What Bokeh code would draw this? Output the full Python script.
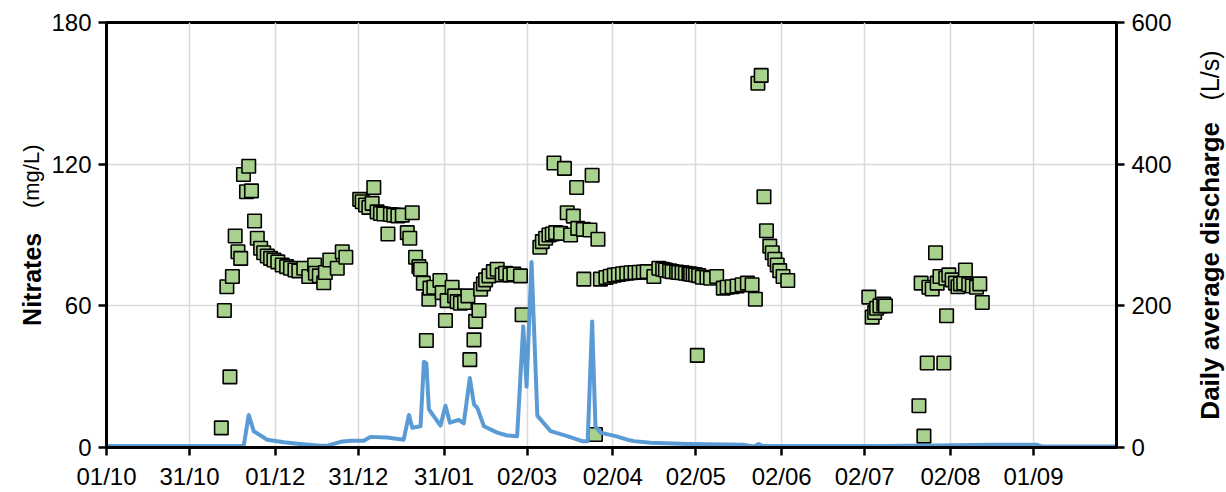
import math
from bokeh.plotting import figure
from bokeh.layouts import row
from bokeh.models import Range1d, LinearAxis, FixedTicker
from bokeh.core.properties import value
from bokeh.embed import file_html
from bokeh.resources import INLINE

# Hydrological year, days counted from 1 October
tick_days = [0, 30, 61, 91, 122, 152, 183, 213, 244, 274, 305, 335]
tick_labels = ["01/10", "31/10", "01/12", "31/12", "31/01", "02/03",
               "02/04", "02/05", "02/06", "02/07", "02/08", "01/09"]

nitrate_ticks = [0, 60, 120, 180]
discharge_ticks = [0, 200, 400, 600]

# Nitrate concentration samples (day, mg/L)
nitrate_day = [
    41.5, 42.6, 43.5, 44.6, 45.5, 46.5, 47.5, 48.5, 49.5, 50.6, 51.4, 52.4,
    53.5, 54.5, 55.7, 56.8, 58.1, 59.3, 60.5, 61.9, 63.5, 65.1, 66.5, 68.1,
    69.5, 71.3, 73.1, 75.2, 75.5, 76.9, 78.5, 79.1, 80.7, 83.4, 85.2, 86.5,
    91.5, 92.4, 93.6, 94.8, 96.0, 96.6, 97.8, 99.0, 100.2, 101.7, 102.6, 103.8,
    105.3, 106.9, 108.7, 109.6, 110.5, 111.7, 112.9, 113.5, 114.5, 115.6, 116.5,
    116.9, 118.3, 120.5, 121.3, 122.5, 123.1, 124.9, 125.8, 126.7, 127.9, 129.4,
    130.6, 131.3, 132.8, 133.4, 134.6, 135.2, 136.2, 137.0, 138.2, 139.8, 141.2,
    143.0, 144.2, 145.8, 147.2, 149.6, 150.2,
    156.6, 157.5, 158.7, 159.9, 161.1, 161.7, 162.3, 164.1, 165.5, 166.5, 167.7,
    168.7, 169.9, 170.3, 172.3, 172.5, 174.7, 175.5, 176.7, 177.6, 178.5,
    180.5, 182.0, 183.5, 185.0, 186.5, 188.0, 189.5, 191.0, 192.5, 194.0, 195.4,
    197.8, 199.6, 201.0, 202.0, 203.5, 204.4, 206.0, 206.8, 208.0, 209.2, 210.5,
    211.1, 212.0, 212.9, 213.5, 214.0, 215.3, 217.0, 218.3, 220.5, 222.9, 224.3,
    226.1, 227.9, 229.7, 231.6, 233.3, 234.5,
    235.4, 236.6, 237.6, 238.5, 239.7, 240.6, 241.5, 242.4, 243.3, 244.5, 246.2,
    275.5, 276.7, 277.6, 278.3, 279.5, 280.9, 281.5,
    293.6, 294.4, 295.4, 296.6, 297.2, 298.4, 299.6, 300.2, 301.2, 302.6, 303.3,
    303.6, 304.4, 305.6, 306.8, 307.7, 308.6, 309.8, 310.4, 311.6, 312.9, 314.4,
    315.6, 316.5,
]
nitrate_mgl = [
    8.3, 58.0, 68.1, 29.9, 72.4, 89.6, 82.9, 80.1, 115.6, 108.3, 119.1, 108.7,
    95.9, 88.6, 84.4, 82.5, 81.1, 80.1, 79.4, 78.6, 77.3, 76.6, 75.9, 75.2,
    74.8, 75.9, 72.4, 77.3, 73.8, 72.7, 69.8, 74.1, 79.4, 75.9, 82.9, 80.6,
    105.1, 104.1, 102.7, 101.7, 103.4, 110.1, 99.8, 99.1, 98.9, 90.4, 98.7, 98.4,
    98.1, 98.4, 91.0, 88.6, 99.4, 80.6, 76.6, 75.5, 69.6, 45.3, 62.8,
    67.5, 67.9, 70.7, 65.6, 53.8, 62.2, 67.9, 64.2, 61.8, 61.1, 61.4,
    64.2, 37.2, 45.6, 53.4, 58.0, 67.0, 69.3, 71.0, 72.7, 74.5, 75.5,
    73.1, 73.8, 73.1, 73.5, 72.7, 56.2,
    84.8, 87.2, 88.6, 90.0, 90.4, 120.5, 91.0, 90.7, 118.2, 99.4, 90.0,
    98.0, 110.1, 92.8, 92.4, 71.3, 92.1, 115.3, 5.5, 88.2, 71.3,
    72.0, 72.5, 73.0, 73.3, 73.6, 73.8, 74.0, 74.1, 74.2, 74.3, 74.5,
    72.4, 75.9, 75.5, 75.2, 74.8, 74.5, 74.3, 74.1, 74.0, 73.8, 73.6,
    73.5, 73.3, 73.1, 39.0, 72.8, 72.1, 72.0, 71.7, 72.4, 67.5, 67.9,
    68.1, 68.4, 68.9, 69.6, 68.9, 62.8,
    154.3, 157.6, 106.2, 91.8, 85.3, 82.5, 79.7, 77.3, 74.9, 72.4, 70.7,
    63.7, 55.2, 57.2, 59.0, 60.0, 60.8, 60.0,
    17.7, 69.6, 4.8, 35.8, 67.9, 67.1, 82.5, 69.6, 72.4, 35.8, 71.7,
    55.8, 73.1, 71.0, 69.6, 68.1, 69.3, 69.6, 75.2, 68.9, 68.4, 67.9,
    69.3, 61.4,
]

# Daily average discharge (day, L/s)
discharge_day = [
    0, 45, 49.6, 51.4, 53.2, 58.1, 64.1, 70.1, 77.3, 80, 82.1, 84.6, 88.2, 93,
    95.4, 101.4, 107.4, 109.3, 110.5, 113.5, 114.7, 115.6, 116.5, 118.3, 120.7,
    122.5, 124.1, 127.3, 129.1, 131.3, 132.8, 134, 136.4, 141.2, 144.8, 148.4,
    150.6, 151.8, 153.6, 155.7, 160.5, 166.5, 171.9, 173.9, 175.5, 176.7, 178.5,
    184, 188.2, 190.6, 196.6, 210, 230, 234, 235.7, 237, 245, 280, 300, 320,
    336, 338, 365,
]
discharge_ls = [
    2, 2, 2.5, 46, 23, 11, 7.5, 5, 2.5, 2.5, 5, 8, 9.5, 9.5,
    15, 14, 11, 46, 28, 30, 121, 119, 54, 44, 31,
    59, 35, 39, 34, 98, 61, 56, 30, 21, 17, 16,
    171, 86, 262, 45, 23, 16, 9, 9, 178, 30, 21,
    16, 11, 9, 6.6, 5, 4, 1.5, 5, 2.5, 2, 2, 3, 4,
    4, 1.5, 1.5,
]

FONT = "Liberation Sans"
TICK_SIZE = "24px"

SIDE_W = 48          # width of the panels holding the axis titles
MAIN_W = 1226 - 2 * SIDE_W

p = figure(width=MAIN_W, height=492, output_backend="svg", toolbar_location=None,
           x_range=Range1d(0, 365), y_range=Range1d(0, 180),
           min_border_left=106 - SIDE_W, min_border_right=110 - SIDE_W,
           min_border_top=22, min_border_bottom=44)
p.background_fill_color = "white"
p.border_fill_color = "white"
p.outline_line_color = "black"
p.outline_line_width = 3

p.extra_y_ranges = {"q": Range1d(0, 600)}
right_axis = LinearAxis(y_range_name="q")
p.add_layout(right_axis, "right")

p.xaxis.ticker = FixedTicker(ticks=tick_days)
p.xaxis.major_label_overrides = {d: lab for d, lab in zip(tick_days, tick_labels)}
p.yaxis.ticker = FixedTicker(ticks=nitrate_ticks)
right_axis.ticker = FixedTicker(ticks=discharge_ticks)

for ax in p.xaxis + p.yaxis:
    ax.axis_line_color = "black"
    ax.axis_line_width = 3
    ax.major_tick_line_color = "black"
    ax.major_tick_line_width = 2.5
    ax.major_tick_out = 8
    ax.major_tick_in = 0
    ax.minor_tick_line_color = None
    ax.major_label_text_font = FONT
    ax.major_label_text_font_size = TICK_SIZE
    ax.major_label_text_color = "black"
    ax.major_label_standoff = 7

p.xgrid.ticker = FixedTicker(ticks=tick_days)
p.ygrid.ticker = FixedTicker(ticks=nitrate_ticks)
p.xgrid.grid_line_color = "#d9d9d9"
p.ygrid.grid_line_color = "#d9d9d9"
p.xgrid.grid_line_width = 1.5
p.ygrid.grid_line_width = 1.5

# Nitrate samples drawn first, discharge line on top
p.scatter(nitrate_day, nitrate_mgl, marker="square", size=13.5,
          fill_color="#a9d18e", line_color="black", line_width=1.6)
p.line(discharge_day, discharge_ls, y_range_name="q",
       line_color="#5b9bd5", line_width=4, line_join="round")


def title_panel(x0, parts):
    """Narrow panel, frame-aligned with the chart, holding a vertical axis title.

    parts: (baseline x in page pixels, start position on the nitrate scale,
            text, font size, bold?)
    """
    t = figure(width=SIDE_W, height=492, output_backend="svg", toolbar_location=None,
               x_range=Range1d(x0, x0 + SIDE_W), y_range=Range1d(0, 180),
               min_border=0)
    t.axis.visible = False
    t.grid.visible = False
    t.outline_line_color = None
    t.background_fill_color = "white"
    t.border_fill_color = "white"
    for bx, start, text, size, bold in parts:
        t.text(x=[bx], y=[start], text=[text], angle=math.pi / 2,
               text_font=value(FONT), text_font_size=size,
               text_font_style="bold" if bold else "normal",
               text_align="left", text_baseline="alphabetic", text_color="black")
    return t


left_title = title_panel(0, [
    (31, 51.5, "Nitrates", "25px", True),
    (31, 101.4, "(mg/L)", "22px", False),
])
right_title = title_panel(1226 - SIDE_W, [
    (1209, 11.8, "Daily average discharge", "26px", True),
    (1209, 147.0, "(L/s)", "25px", False),
])

layout = row(left_title, p, right_title, spacing=0)
open("out.html", "w").write(file_html(layout, INLINE))
